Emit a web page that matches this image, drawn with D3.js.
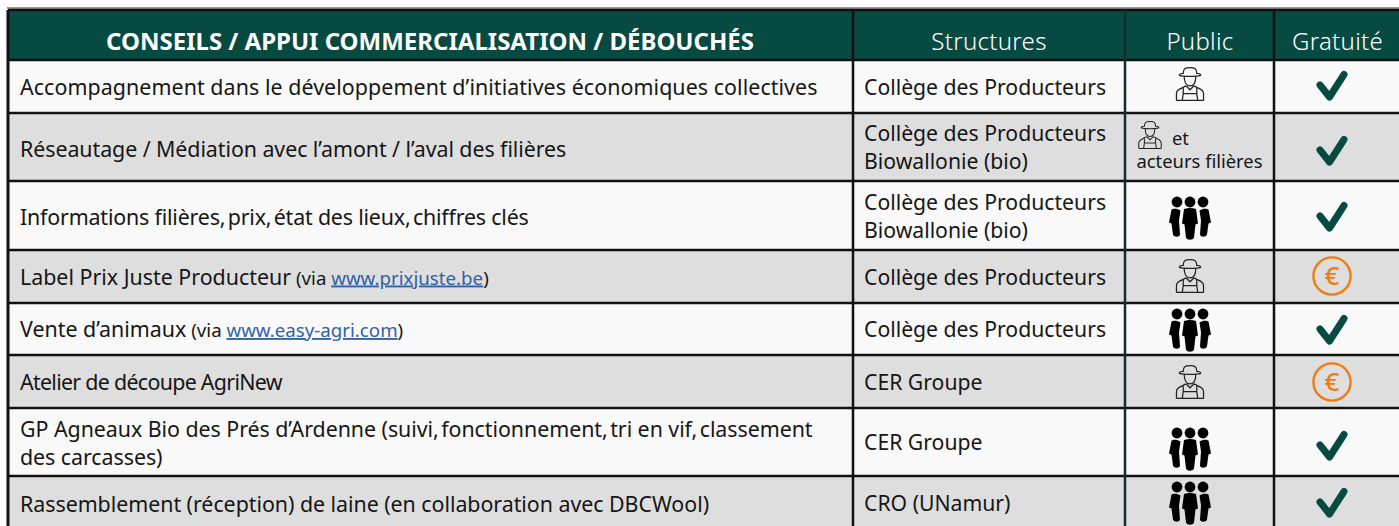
<!DOCTYPE html>
<html>
<head>
<meta charset="utf-8">
<script src="https://cdnjs.cloudflare.com/ajax/libs/d3/7.8.5/d3.min.js"></script>
<style>
  html, body { margin: 0; padding: 0; background: #fff; overflow: hidden; }
  text { font-family: "Noto Sans", sans-serif; fill: #161616; }
  .link { fill: #2f62a8; text-decoration: underline; }
</style>
</head>
<body>
<div id="chart"></div>
<script>
var svgWidth = 1399;
var svgHeight = 526;

// table content
var columns = ["CONSEILS / APPUI COMMERCIALISATION / DÉBOUCHÉS", "Structures", "Public", "Gratuité"];
var services = [
  ["Accompagnement dans le développement d’initiatives économiques collectives"],
  ["Réseautage / Médiation avec l’amont / l’aval des filières"],
  ["Informations filières, prix, état des lieux, chiffres clés"],
  ["Label Prix Juste Producteur"],
  ["Vente d’animaux"],
  ["Atelier de découpe AgriNew"],
  ["GP Agneaux Bio des Prés d’Ardenne (suivi, fonctionnement, tri en vif, classement", "des carcasses)"],
  ["Rassemblement (réception) de laine (en collaboration avec DBCWool)"]
];
var links = [null, null, null, "www.prixjuste.be", "www.easy-agri.com", null, null, null];
var structures = [
  ["Collège des Producteurs"],
  ["Collège des Producteurs", "Biowallonie (bio)"],
  ["Collège des Producteurs", "Biowallonie (bio)"],
  ["Collège des Producteurs"],
  ["Collège des Producteurs"],
  ["CER Groupe"],
  ["CER Groupe"],
  ["CRO (UNamur)"]
];
var publics = ["farmer", "farmer+", "people", "farmer", "people", "farmer", "people", "people"];
var gratuite = ["check", "check", "check", "euro", "check", "euro", "check", "check"];

// layout
var colEdges = [8, 853, 1125, 1274, 1402];
var rowEdges = [60, 113, 181, 250, 303, 355, 408, 476, 529];
var tableTop = 10;
var green = "#064a42";
var orange = "#ee7d11";
var publicCx = 1190;
var gratuiteCx = 1332;
// icon centres do not sit exactly mid-row in the original
var iconCy = [84, 135, 218, 276, 330, 382, 449, 503];
var markCy = [86, 151, 217, 276, 330, 382, 446, 503];
var serviceNudge = [0, 2, 1, 0, 0, 0, 1, 1];
var serviceTrack = [0.07, -0.07, -0.18, 0, 0, -0.7, -0.05, -0.04];

var x = d3.scaleOrdinal().domain(d3.range(5)).range(colEdges);
var y = d3.scaleOrdinal().domain(d3.range(9)).range(rowEdges);
var rowIdx = d3.range(services.length);

var svg = d3.select("#chart").append("svg")
  .attr("width", svgWidth)
  .attr("height", svgHeight)
  .style("display", "block");

// header band
svg.append("rect").attr("x", 7).attr("y", 7).attr("width", 1392).attr("height", 2).attr("fill", "#999");
svg.append("rect").attr("x", x(0)).attr("y", tableTop).attr("width", 1399).attr("height", y(0) - tableTop).attr("fill", green);

// row backgrounds
svg.selectAll(".row").data(rowIdx).enter().append("rect")
  .attr("class", "row")
  .attr("x", x(0))
  .attr("y", d => y(d))
  .attr("width", 1399)
  .attr("height", d => y(d + 1) - y(d))
  .attr("fill", d => d % 2 ? "#dedede" : "#f9f9f9");

// grid lines
svg.selectAll(".hline").data(d3.range(9)).enter().append("line")
  .attr("class", "hline")
  .attr("x1", x(0)).attr("x2", 1399)
  .attr("y1", d => y(d)).attr("y2", d => y(d))
  .attr("stroke", "#111").attr("stroke-width", 2.5);
svg.append("line").attr("x1", x(0)).attr("x2", 1399).attr("y1", tableTop).attr("y2", tableTop).attr("stroke", "#111").attr("stroke-width", 2.5);
svg.selectAll(".vline").data([0, 1, 2, 3]).enter().append("line")
  .attr("class", "vline")
  .attr("x1", d => x(d)).attr("x2", d => x(d))
  .attr("y1", tableTop).attr("y2", svgHeight)
  .attr("stroke", d => d === 2 ? "#0f2f2b" : "#111")
  .attr("stroke-width", d => d === 0 ? 3 : 2.5);

// header labels
var headerCx = [430, 989, 1200, 1337.5];
svg.selectAll(".head").data(columns).enter().append("text")
  .attr("class", "head")
  .attr("x", (d, i) => headerCx[i])
  .attr("y", 50)
  .attr("text-anchor", "middle")
  .style("fill", "#fff")
  .style("font-size", "24px")
  .style("font-weight", (d, i) => i ? 300 : 700)
  .style("letter-spacing", (d, i) => i ? "0.3px" : "0")
  .text(d => d);

// first column: the spaces after commas are tight in the original
function serviceLine(t, line) {
  line.split(", ").forEach(function(part, i, parts) {
    t.append("tspan")
      .attr("dx", i ? -3 : 0)
      .text(part + (i < parts.length - 1 ? ", " : ""));
  });
}

function multiline(col, lines, textX, size) {
  rowIdx.forEach(function(r) {
    var cy = (y(r) + y(r + 1)) / 2;
    var ls = lines[r];
    ls.forEach(function(line, k) {
      var t = svg.append("text")
        .attr("class", "cell c" + col)
        .attr("x", textX)
        .attr("y", cy + 8 + (k - (ls.length - 1) / 2) * 28 + (col === 0 ? serviceNudge[r] : 0))
        .style("font-size", size + "px");
      if (col === 0) {
        t.style("letter-spacing", serviceTrack[r] + "px");
        serviceLine(t, line);
      } else {
        t.text(line);
      }
      if (col === 0 && links[r]) {
        t.append("tspan").style("font-size", "18.7px").text(" (via ");
        t.append("tspan").attr("class", "link").style("font-size", "18.7px").text(links[r]);
        t.append("tspan").style("font-size", "18.7px").text(")");
      }
    });
  });
}
multiline(0, services, 20, 21.4);
multiline(1, structures, 864, 21.2);

// icons
var defs = svg.append("defs");

var farmer = defs.append("symbol").attr("id", "farmer").attr("viewBox", "0 0 30 36").attr("overflow", "visible");
var fg = farmer.append("g").attr("fill", "none").attr("stroke", "#222").attr("stroke-width", 1.3);
fg.append("path").attr("d", "M4 9 C4 7 7 7 8 7 C8 2 10 1 15 1 C20 1 22 2 22 7 C23 7 26 7 26 9 C22 10.5 8 10.5 4 9 Z");
fg.append("path").attr("d", "M9 10 C9 16 11 20 15 20 C19 20 21 16 21 10");
fg.append("path").attr("d", "M1 35 V28 C1 24 5 23 11 20 M29 35 V28 C29 24 25 23 19 20 M1 35 H29");
fg.append("path").attr("d", "M8 22 V28 H22 V22 M8 28 L7 35 M22 28 L23 35 M11 20 L15 24 L19 20");

var people = defs.append("symbol").attr("id", "people").attr("viewBox", "-22 0 44 44").attr("overflow", "visible");
var midBody = "M-6 12.5 C-2 11 2 11 6 12.5 L8 27 L5.5 28 L4 41 C3 44 -3 44 -4 41 L-5.5 28 L-8 27 Z";
var sideBody = "M-3.5 14 C0 11.5 4 12 5.5 13 L8 26 L5.5 27 L4 38 C3 41 -2.5 41 -3 38 L-2 24 Z";
[[-13, -1], [13, 1], [0, 1]].forEach(function(p) {
  var g = people.append("g").attr("transform", "translate(" + p[0] + ",0)");
  g.append("circle").attr("cy", 5.5).attr("r", 5.4).attr("fill", "#000");
  g.append("path")
    .attr("d", p[0] ? sideBody : midBody)
    .attr("transform", "scale(" + p[1] + ",1)")
    .attr("fill", "#000");
});

svg.selectAll(".pub").data(rowIdx).enter().append("use")
  .attr("class", "pub")
  .attr("href", d => publics[d].startsWith("farmer") ? "#farmer" : "#people")
  .attr("width", d => publics[d] === "people" ? 44 : (publics[d] === "farmer" ? 29 : 24))
  .attr("height", d => publics[d] === "people" ? 44 : (publics[d] === "farmer" ? 36 : 29))
  .attr("x", d => publics[d] === "farmer+" ? 1138 : (publics[d] === "farmer" ? publicCx - 14.5 : publicCx - 22))
  .attr("y", d => iconCy[d] - (publics[d] === "people" ? 21.5 : (publics[d] === "farmer" ? 18 : 14.5)));

// "et acteurs filières" note beside the farmer
var noteRow = publics.indexOf("farmer+");
svg.append("text").attr("x", 1172).attr("y", y(noteRow) + 32).style("font-size", "18.4px").text("et");
svg.append("text").attr("x", 1199.5).attr("y", y(noteRow) + 55).attr("text-anchor", "middle").style("font-size", "18.4px").text("acteurs filières");

// gratuité marks
var marks = svg.selectAll(".mark").data(rowIdx).enter().append("g")
  .attr("class", "mark")
  .attr("transform", d => "translate(" + gratuiteCx + "," + markCy[d] + ")");

marks.filter(d => gratuite[d] === "check").append("path")
  .attr("d", "M-12 -1 L-2.5 11 L12 -11.5")
  .attr("fill", "none")
  .attr("stroke", green)
  .attr("stroke-width", 7)
  .attr("stroke-linecap", "round")
  .attr("stroke-linejoin", "round");

marks.filter(d => gratuite[d] === "euro").append("circle")
  .attr("r", 18.6)
  .attr("fill", "none")
  .attr("stroke", orange)
  .attr("stroke-width", 2.4);
marks.filter(d => gratuite[d] === "euro").append("text")
  .attr("y", 9)
  .attr("text-anchor", "middle")
  .style("fill", orange)
  .style("font-size", "26px")
  .style("font-weight", 500)
  .text("€");
</script>
</body>
</html>
